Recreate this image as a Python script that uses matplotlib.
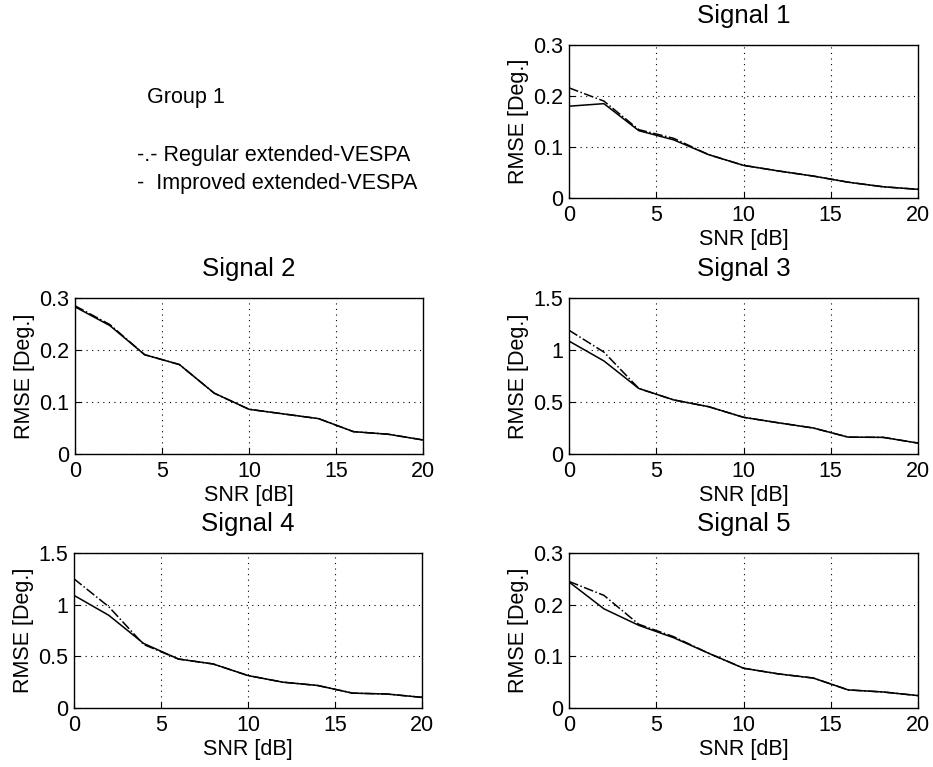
import matplotlib.pyplot as plt

plt.rcParams['font.family'] = ['Liberation Sans', 'DejaVu Sans']
plt.rcParams['font.size'] = 15.5

snr = [0, 2, 4, 6, 8, 10, 12, 14, 16, 18, 20]

# improved extended-VESPA (solid)
imp1 = [0.180, 0.185, 0.132, 0.114, 0.085, 0.064, 0.053, 0.043, 0.031, 0.022, 0.017]
imp2 = [0.283, 0.247, 0.191, 0.172, 0.117, 0.086, 0.077, 0.068, 0.043, 0.038, 0.027]
imp3 = [1.086, 0.895, 0.630, 0.520, 0.455, 0.353, 0.300, 0.250, 0.162, 0.160, 0.105]
imp4 = [1.090, 0.897, 0.625, 0.474, 0.426, 0.314, 0.250, 0.218, 0.144, 0.135, 0.103]
imp5 = [0.244, 0.192, 0.160, 0.136, 0.106, 0.077, 0.066, 0.058, 0.035, 0.031, 0.024]

# regular extended-VESPA (dash-dot)
reg1 = [0.216, 0.190, 0.134, 0.117, 0.085, 0.064, 0.053, 0.043, 0.031, 0.022, 0.017]
reg2 = [0.285, 0.249, 0.191, 0.172, 0.117, 0.086, 0.077, 0.068, 0.043, 0.038, 0.027]
reg3 = [1.19, 0.98, 0.630, 0.520, 0.455, 0.353, 0.300, 0.250, 0.162, 0.160, 0.105]
reg4 = [1.25, 0.98, 0.615, 0.474, 0.426, 0.314, 0.250, 0.218, 0.144, 0.135, 0.103]
reg5 = [0.245, 0.218, 0.162, 0.138, 0.106, 0.077, 0.066, 0.058, 0.035, 0.031, 0.024]

titles = ['Signal 1', 'Signal 2', 'Signal 3', 'Signal 4', 'Signal 5']
ylims = [0.3, 0.3, 1.5, 1.5, 0.3]
yticks = [[0, 0.1, 0.2, 0.3], [0, 0.1, 0.2, 0.3], [0, 0.5, 1, 1.5],
          [0, 0.5, 1, 1.5], [0, 0.1, 0.2, 0.3]]
ytlabels = [['0', '0.1', '0.2', '0.3'], ['0', '0.1', '0.2', '0.3'],
            ['0', '0.5', '1', '1.5'], ['0', '0.5', '1', '1.5'],
            ['0', '0.1', '0.2', '0.3']]
imps = [imp1, imp2, imp3, imp4, imp5]
regs = [reg1, reg2, reg3, reg4, reg5]

W, H = 933, 767
# axes boxes in pixels: left, top, right, bottom
boxes = [(569, 45, 918, 198),
         (75, 298, 423, 454),
         (569, 298, 918, 454),
         (74, 553, 422, 708),
         (569, 553, 918, 708)]

fig = plt.figure(figsize=(W / 100, H / 100), dpi=100)

for i in range(5):
    l, t, r, b = boxes[i]
    ax = fig.add_axes([l / W, 1 - b / H, (r - l) / W, (b - t) / H])
    ax.plot(snr, regs[i], color='k', linestyle='-.', linewidth=1.1)
    ax.plot(snr, imps[i], color='k', linestyle='-', linewidth=1.1)
    ax.set_xlim(0, 20)
    ax.set_ylim(0, ylims[i])
    ax.set_xticks([0, 5, 10, 15, 20])
    ax.set_yticks(yticks[i])
    ax.set_yticklabels(ytlabels[i])
    ax.grid(True, color='k', linestyle=(0, (1, 4)), linewidth=0.8)
    ax.tick_params(direction='in', length=4)
    ax.tick_params(axis='x', pad=5)
    ax.tick_params(axis='y', pad=4)
    for s in ax.spines.values():
        s.set_linewidth(1.0)
    ax.set_title(titles[i], pad=16)
    ax.set_xlabel('SNR [dB]', labelpad=2)
    ax.set_ylabel('RMSE [Deg.]', labelpad=3)

fig.text(147 / W, 1 - 97 / H, 'Group 1', va='center', ha='left')
fig.text(137 / W, 1 - 155 / H, '-.- Regular extended-VESPA', va='center', ha='left')
fig.text(137 / W, 1 - 184 / H, '-  Improved extended-VESPA', va='center', ha='left')

fig.savefig('out.png', dpi=100)
